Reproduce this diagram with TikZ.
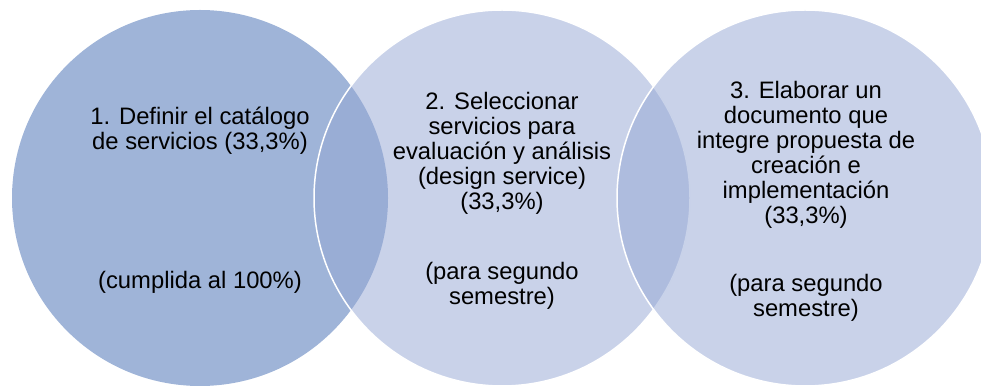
\documentclass[tikz,border=0pt]{standalone}
\usepackage{fontspec}
\setmainfont{Liberation Sans}
\definecolor{ringdark}{RGB}{159,180,216}
\definecolor{ringlight}{RGB}{149,167,212}
\begin{document}
\begin{tikzpicture}
			[x=1pt, y=1pt,
			ring/.style={circle, minimum size=376pt, inner sep=0pt},
			ringtop/.style={ring, fill=ringlight, fill opacity=0.51, draw=white, line width=1.5pt},
			goal/.style={align=center, font=\fontsize{23.8}{25}\selectfont}]
			\useasboundingbox (0,0) rectangle (981,385);
			\node[ring, fill=ringdark] (c1) at (200,187) {};
			\node[ringtop] (c2) at (502,187) {};
			\node[ringtop] (c3) at (805,187) {};
			\node[goal] (t1) at (200,254.5) {1. Definir el catálogo\\de servicios (33,3\%)};
			\node[goal] (b1) at (200,103) {(cumplida al 100\%)};
			\node[goal] (t2) at (502,232) {2. Seleccionar\\servicios para\\evaluación y análisis\\(design service)\\(33,3\%)};
			\node[goal] (b2) at (502,99.5) {(para segundo\\semestre)};
			\node[goal] (t3) at (806,230.5) {3. Elaborar un\\documento que\\integre propuesta de\\creación e\\implementación\\(33,3\%)};
			\node[goal] (b3) at (806,87.5) {(para segundo\\semestre)};
		\end{tikzpicture}
\end{document}
